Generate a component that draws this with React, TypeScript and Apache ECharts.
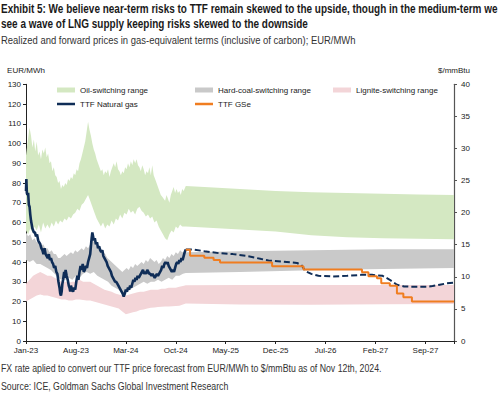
import React, { useEffect, useRef } from 'react';
import * as echarts from 'echarts';

// x values are months since Jan-2023 (0 = Jan-23, 60 = Jan-28)
const xTickLabels = ['Jan-23', 'Aug-23', 'Mar-24', 'Oct-24', 'May-25', 'Dec-25', 'Jul-26', 'Feb-27', 'Sep-27'];
const leftTicks = [0, 130, 10];
const rightTicks = [0, 40, 5];

const oilUpper: number[][] = [[0,94],[0.2,100],[0.5,108],[0.7,104],[0.9,98],[1.1,102],[1.3,96],[1.5,101],[1.7,94],[1.9,96],[2.1,92],[2.3,97],[2.5,95],[2.7,98],[2.9,93],[3.1,95],[3.3,90],[3.5,91],[3.7,86],[3.9,88],[4.1,84],[4.3,83],[4.5,80],[4.7,81],[4.9,77],[5.1,79],[5.3,78],[5.5,80],[5.7,79],[5.9,82],[6.1,81],[6.3,83],[6.5,82],[6.7,85],[6.9,84],[7.1,87],[7.3,86],[7.5,90],[7.7,92],[7.9,95],[8.1,98],[8.3,101],[8.5,106],[8.7,111],[8.9,107],[9.1,104],[9.3,100],[9.5,97],[9.7,95],[9.9,92],[10.1,90],[10.3,88],[10.5,86],[10.7,87],[10.9,84],[11.1,86],[11.3,85],[11.5,87],[11.7,83],[11.9,86],[12.1,88],[12.3,90],[12.5,88],[12.7,91],[12.9,87],[13.1,86],[13.3,84],[13.5,86],[13.7,85],[13.9,88],[14.1,87],[14.3,90],[14.5,88],[14.7,91],[14.9,89],[15.1,92],[15.3,90],[15.5,92],[15.7,89],[15.9,88],[16.1,86],[16.3,89],[16.5,87],[16.7,84],[16.9,86],[17.1,85],[17.3,88],[17.5,84],[17.7,89],[17.9,84],[18.1,82],[18.3,80],[18.5,78],[18.7,76],[18.9,74],[19.1,73],[19.3,72],[19.5,71],[19.7,74],[19.9,72],[20.1,70],[20.3,74],[20.5,76],[20.7,78],[20.9,75],[21.1,77],[21.3,75],[21.5,76],[21.7,74],[21.9,77],[22.1,76],[22.4,78.5],[25,78],[30,77],[35,76],[40,75.3],[45,75],[50,74.6],[55,74.2],[60,74]];
const oilLower: number[][] = [[0,56],[0.3,54],[0.6,57],[0.9,55],[1.2,58],[1.5,56],[1.8,59],[2.1,55],[2.4,60],[2.7,57],[3.0,59],[3.3,57],[3.6,60],[3.9,58],[4.2,61],[4.5,59],[4.8,61],[5.1,60],[5.4,62],[5.7,61],[6.0,63],[6.3,62],[6.6,64],[6.9,65],[7.2,67],[7.5,66],[7.8,69],[8.1,70],[8.4,72],[8.7,74],[9.0,71],[9.3,68],[9.6,65],[9.9,62],[10.2,60],[10.5,58],[10.8,60],[11.1,57],[11.4,59],[11.7,58],[12.0,61],[12.3,59],[12.6,62],[12.9,61],[13.2,64],[13.5,62],[13.8,65],[14.1,64],[14.4,67],[14.7,65],[15.0,66],[15.3,64],[15.6,67],[15.9,68],[16.2,66],[16.5,65],[16.8,63],[17.1,64],[17.4,62],[17.7,63],[18.0,60],[18.3,61],[18.6,58],[18.9,56],[19.2,54],[19.5,52],[19.8,51],[20.1,54],[20.4,56],[20.7,55],[21.0,58],[21.3,57],[21.6,59],[21.9,58],[22.4,58],[25,57.5],[30,56.5],[35,55.5],[40,53.5],[45,52.5],[50,52],[55,51.8],[60,51.5]];

const coalUpper: number[][] = [[0,55],[0.3,53],[0.6,54],[0.9,51],[1.2,52],[1.5,50],[1.8,50],[2.1,48],[2.4,49],[2.7,47],[3.0,47],[3.3,45],[3.6,46],[3.9,44],[4.2,44],[4.5,42],[4.8,42],[5.1,43],[5.4,44],[5.7,43],[6.0,44],[6.3,45],[6.6,44],[6.9,46],[7.2,45],[7.5,46],[7.8,47],[8.1,46],[8.4,48],[8.7,47],[9.0,49],[9.3,51],[9.6,50],[9.9,49],[10.2,47],[10.5,47],[10.8,45],[11.1,44],[11.4,42],[11.7,41],[12.0,40],[12.3,39],[12.6,38],[12.9,37],[13.2,36],[13.5,35],[13.8,36],[14.1,37],[14.4,36],[14.7,38],[15.0,37],[15.3,39],[15.6,38],[15.9,39],[16.2,40],[16.5,39],[16.8,41],[17.1,40],[17.4,42],[17.7,41],[18.0,40],[18.3,41],[18.6,39],[18.9,40],[19.2,42],[19.5,41],[19.8,43],[20.1,42],[20.4,44],[20.7,43],[21.0,45],[21.3,44],[21.6,46],[21.9,45],[22.4,45],[30,45.5],[40,46],[50,46.5],[60,46.5]];
const coalLower: number[][] = [[0,41],[0.5,40],[1.0,41],[1.5,39],[2.0,39],[2.5,38],[3.0,37],[3.5,36],[4.0,34],[4.5,32],[5.0,31],[5.5,31],[6.0,32],[6.5,31],[7.0,33],[7.5,32],[8.0,34],[8.5,35],[9.0,34],[9.5,35],[10.0,33],[10.5,32],[11.0,31],[11.5,30],[12.0,28],[12.5,27],[13.0,26],[13.5,24],[14.0,25],[14.5,26],[15.0,27],[15.5,28],[16.0,29],[16.5,30],[17.0,29],[17.5,30],[18.0,30],[18.5,31],[19.0,30],[19.5,31],[20.0,32],[20.5,31],[21.0,33],[21.5,33],[22.0,34],[22.4,34.5],[30,35],[40,35.8],[50,36.5],[60,37]];

const ligniteUpper: number[][] = [[0,29],[0.5,31],[1.0,33],[1.5,34],[2.0,35],[2.5,34],[3.0,33],[3.5,33],[4.0,32],[4.5,31],[5.0,30],[5.5,30],[6.0,29.5],[6.5,30],[7.0,30],[7.5,31],[8.0,30],[8.5,30],[9.0,30],[9.5,29],[10.0,28],[10.5,27],[11.0,26],[11.5,25.5],[12.0,25],[12.5,24],[13.0,23.5],[13.5,23],[14.0,23],[14.5,23.5],[15.0,24],[15.5,24.5],[16.0,25],[16.5,25],[17.0,25.5],[17.5,26],[18.0,26],[18.5,26],[19.0,26.5],[19.5,26.5],[20.0,27],[20.5,27],[21.0,27],[21.5,27.5],[22.0,27.8],[22.4,28.2],[30,28.4],[40,28.4],[50,28.4],[60,28.4]];
const ligniteLower: number[][] = [[0,20],[0.5,21],[1.0,22],[1.5,23],[2.0,23.5],[2.5,23],[3.0,23],[3.5,22.5],[4.0,22],[4.5,21.5],[5.0,21],[5.5,21],[6.0,20.5],[6.5,20.5],[7.0,21],[7.5,21],[8.0,20.8],[8.5,20.5],[9.0,20.5],[9.5,20],[10.0,19.5],[10.5,19],[11.0,18.5],[11.5,18],[12.0,17.5],[12.5,17],[13.0,16.5],[13.5,15],[14.0,13.5],[14.5,14],[15.0,14.5],[15.5,15],[16.0,15.7],[16.5,16],[17.0,16.5],[17.5,16.8],[18.0,17],[18.5,17.2],[19.0,17.4],[19.5,17.5],[20.0,17.5],[20.5,17.6],[21.0,17.7],[21.5,17.8],[22.0,18.5],[22.4,19],[30,18.5],[40,18.4],[50,18.6],[60,18.7]];

const ttfHistory: number[][] = [[0,76],[0.05,82],[0.12,75],[0.2,74],[0.3,75],[0.4,69],[0.5,68],[0.6,64],[0.7,61],[0.8,59],[0.9,57],[1.0,56],[1.1,55],[1.25,55],[1.4,53],[1.55,54],[1.7,51],[1.85,50],[2.0,49],[2.15,47],[2.3,46],[2.45,44],[2.6,47],[2.75,44],[2.9,43],[3.05,42],[3.2,44],[3.35,41],[3.5,42],[3.65,40],[3.8,39],[3.95,37],[4.1,38],[4.25,35],[4.4,34],[4.55,30],[4.7,27],[4.8,24],[4.9,23],[5.0,25],[5.1,29],[5.2,31],[5.35,35],[5.45,32],[5.55,36],[5.7,33],[5.85,31],[6.0,28],[6.1,27],[6.2,25],[6.3,28],[6.45,26],[6.6,25],[6.75,27],[6.9,26],[7.05,30],[7.2,33],[7.35,31],[7.5,35],[7.65,38],[7.8,36],[7.95,39],[8.1,35],[8.25,36],[8.4,38],[8.55,37],[8.7,40],[8.85,42],[9.0,44],[9.1,48],[9.2,52],[9.3,55],[9.4,53],[9.5,51],[9.65,52],[9.8,49],[9.95,50],[10.1,47],[10.25,48],[10.4,46],[10.55,45],[10.7,46],[10.85,43],[11.0,42],[11.15,41],[11.3,40],[11.45,38],[11.6,37],[11.75,36],[11.9,35],[12.05,33],[12.2,32],[12.35,31],[12.5,30],[12.65,30],[12.8,29],[12.95,28],[13.1,27],[13.25,26],[13.4,25],[13.55,24],[13.7,22.5],[13.85,24],[14.0,26],[14.15,25],[14.3,27],[14.45,26],[14.6,28],[14.75,27],[14.9,29],[15.05,31],[15.2,30],[15.35,32],[15.5,31],[15.65,33],[15.8,32],[15.95,33],[16.1,34],[16.25,35],[16.4,36],[16.55,34],[16.7,35],[16.85,34],[17.0,36],[17.15,35],[17.3,34],[17.45,34],[17.6,33],[17.75,34],[17.9,33],[18.05,32],[18.2,33],[18.35,34],[18.5,33],[18.65,34],[18.8,35],[18.95,36],[19.1,38],[19.25,37],[19.4,39],[19.55,40],[19.7,39],[19.85,40],[20.0,38],[20.15,37],[20.3,36],[20.45,35],[20.6,36],[20.75,35],[20.9,37],[21.05,39],[21.2,40],[21.35,39],[21.5,41],[21.65,40],[21.8,42],[21.95,41],[22.1,43],[22.25,45],[22.4,46.4]];
const ttfForward: number[][] = [[22.4,46.4],[23.5,46.3],[25,45.5],[27,44.5],[29,44],[31,43],[32,42.3],[33,41.5],[34,40.8],[36,40.2],[38,39.5],[38.6,38.5],[39.2,35.3],[40,34],[41,33],[43,32.7],[45,33],[47,33.5],[48.5,33.5],[50,33],[51,31],[52,28.5],[53,27.6],[54,27.5],[56,27.5],[57,27.8],[58,28.5],[59,29.2],[60,29.5]];
const ttfGSe: number[][] = [[22.4,46.2],[23.0,43.2],[25.0,42.2],[26.3,41],[27.2,39.8],[34.5,37.8],[38.9,36.2],[47.1,34.8],[48.0,32.8],[49.2,31.8],[49.8,29.2],[51.0,28],[52.0,24.1],[52.9,22.2],[54.1,20],[60,20]];

const title1 = 'Exhibit 5: We believe near-term risks to TTF remain skewed to the upside, though in the medium-term we';
const title2 = 'see a wave of LNG supply keeping risks skewed to the downside';
const subtitle = 'Realized and forward prices in gas-equivalent terms (inclusive of carbon); EUR/MWh';
const note1 = 'FX rate aplied to convert our TTF price forecast from EUR/MWh to $/mmBtu as of Nov 12th, 2024.';
const note2 = 'Source: ICE, Goldman Sachs Global Investment Research';

const FONT = '"Liberation Sans", Arial, sans-serif';
const C_OIL = '#d4e8c2';
const C_COAL = '#c9c9c9';
const C_LIG = '#f3d5d8';
const C_NAVY = '#0f2d57';
const C_ORANGE = '#f07d20';

function measure(text: string, font: string): number {
  const c = document.createElement('canvas').getContext('2d');
  if (!c) return text.length * 6;
  c.font = font;
  return c.measureText(text).width;
}

function band(name: string, lo: number[][], hi: number[][], color: string) {
  return {
    type: 'custom',
    name,
    coordinateSystem: 'cartesian2d',
    silent: true,
    itemStyle: { color },
    data: [[lo[0][0], lo[0][1]]],
    renderItem: (params: any, api: any) => {
      if (params.dataIndex !== 0) return null;
      const pts = lo.map((p) => api.coord(p)).concat(hi.slice().reverse().map((p) => api.coord(p)));
      return { type: 'polygon', shape: { points: pts }, style: { fill: color } };
    },
  };
}

function legendItem(name: string, left: number, top: number, h: number) {
  return {
    data: [{ name, icon: 'rect' }],
    left,
    top,
    padding: 0,
    itemWidth: 18,
    itemHeight: h,
    selectedMode: false,
    textStyle: { fontSize: 8, fontFamily: FONT, color: '#222' },
  };
}

export default function App() {
  const ref = useRef<HTMLDivElement>(null);
  useEffect(() => {
    if (!ref.current) return;
    const chart = echarts.init(ref.current, null, { renderer: 'svg' });
    const tFont = `bold 13px ${FONT}`;
    const sFont = `11.5px ${FONT}`;
    const tScale = 497 / measure(title1, tFont);
    const sScale = 355 / measure(subtitle, sFont);
    const nScale = 381 / measure(note1, sFont);
    const txt = (text: string, y: number, scale: number, bold: boolean, color: string) => ({
      type: 'text',
      x: 1,
      y,
      scaleX: scale,
      style: {
        text,
        fontSize: bold ? 13 : 11.5,
        fontWeight: bold ? 'bold' : 'normal',
        fontFamily: FONT,
        fill: color,
        verticalAlign: 'middle',
      },
    });
    const option: any = {
      animation: false,
      backgroundColor: '#fff',
      grid: { left: 26, right: 46, top: 84.3, bottom: 56, containLabel: false },
      graphic: [
        txt(title1, 8.5, tScale, true, '#1a1a1a'),
        txt(title2, 24, tScale, true, '#1a1a1a'),
        txt(subtitle, 39.5, sScale, false, '#333'),
        txt(note1, 368, nScale, false, '#333'),
        txt(note2, 386, nScale, false, '#333'),
      ],
      legend: [
        legendItem('Oil-switching range', 57, 86, 5),
        legendItem('Hard-coal-switching range', 195, 86, 5),
        legendItem('Lignite-switching range', 333, 86, 5),
        legendItem('TTF Natural gas', 57, 100, 2.5),
        legendItem('TTF GSe', 195, 100, 2.5),
      ],
      xAxis: {
        type: 'value',
        min: 0,
        max: 60,
        interval: 7,
        axisLine: { show: true, lineStyle: { color: '#222', width: 1 } },
        axisTick: { show: true, length: 3, lineStyle: { color: '#222' } },
        splitLine: { show: false },
        axisLabel: {
          fontSize: 8,
          fontFamily: FONT,
          color: '#222',
          margin: 5,
          formatter: (v: number) => {
            const i = v / 7;
            return Number.isInteger(i) && i < xTickLabels.length ? xTickLabels[i] : '';
          },
        },
      },
      yAxis: [
        {
          type: 'value',
          min: leftTicks[0],
          max: leftTicks[1],
          interval: leftTicks[2],
          name: 'EUR/MWh',
          nameLocation: 'end',
          nameGap: 10,
          nameTextStyle: { fontSize: 8, fontFamily: FONT, color: '#222' },
          axisLine: { show: true, lineStyle: { color: '#222', width: 1 } },
          axisTick: { show: true, length: 3, lineStyle: { color: '#222' } },
          splitLine: { show: false },
          axisLabel: { fontSize: 8, fontFamily: FONT, color: '#222', margin: 5 },
        },
        {
          type: 'value',
          position: 'right',
          min: rightTicks[0],
          max: rightTicks[1],
          interval: rightTicks[2],
          name: '$/mmBtu',
          nameLocation: 'end',
          nameGap: 10,
          nameTextStyle: { fontSize: 8, fontFamily: FONT, color: '#222' },
          axisLine: { show: true, lineStyle: { color: '#555', width: 1.2 } },
          axisTick: { show: true, length: 3, lineStyle: { color: '#555' } },
          splitLine: { show: false },
          axisLabel: { fontSize: 8, fontFamily: FONT, color: '#222', margin: 7 },
        },
      ],
      series: [
        band('Oil-switching range', oilLower, oilUpper, C_OIL),
        band('Hard-coal-switching range', coalLower, coalUpper, C_COAL),
        band('Lignite-switching range', ligniteLower, ligniteUpper, C_LIG),
        {
          type: 'line',
          name: 'TTF Natural gas',
          data: ttfHistory,
          symbol: 'none',
          showSymbol: false,
          color: C_NAVY,
          lineStyle: { color: C_NAVY, width: 2.6 },
        },
        {
          type: 'line',
          name: 'TTF Natural gas forward',
          data: ttfForward,
          symbol: 'none',
          showSymbol: false,
          color: C_NAVY,
          lineStyle: { color: C_NAVY, width: 2, type: [6, 3] },
        },
        {
          type: 'line',
          name: 'TTF GSe',
          data: ttfGSe,
          step: 'end',
          symbol: 'none',
          showSymbol: false,
          color: C_ORANGE,
          lineStyle: { color: C_ORANGE, width: 2 },
        },
      ],
    };
    chart.setOption(option);
    return () => chart.dispose();
  }, []);
  return (
    <div
      ref={ref}
      style={{ position: 'fixed', left: 0, top: 0, width: 500, height: 397, background: '#fff' }}
    />
  );
}
